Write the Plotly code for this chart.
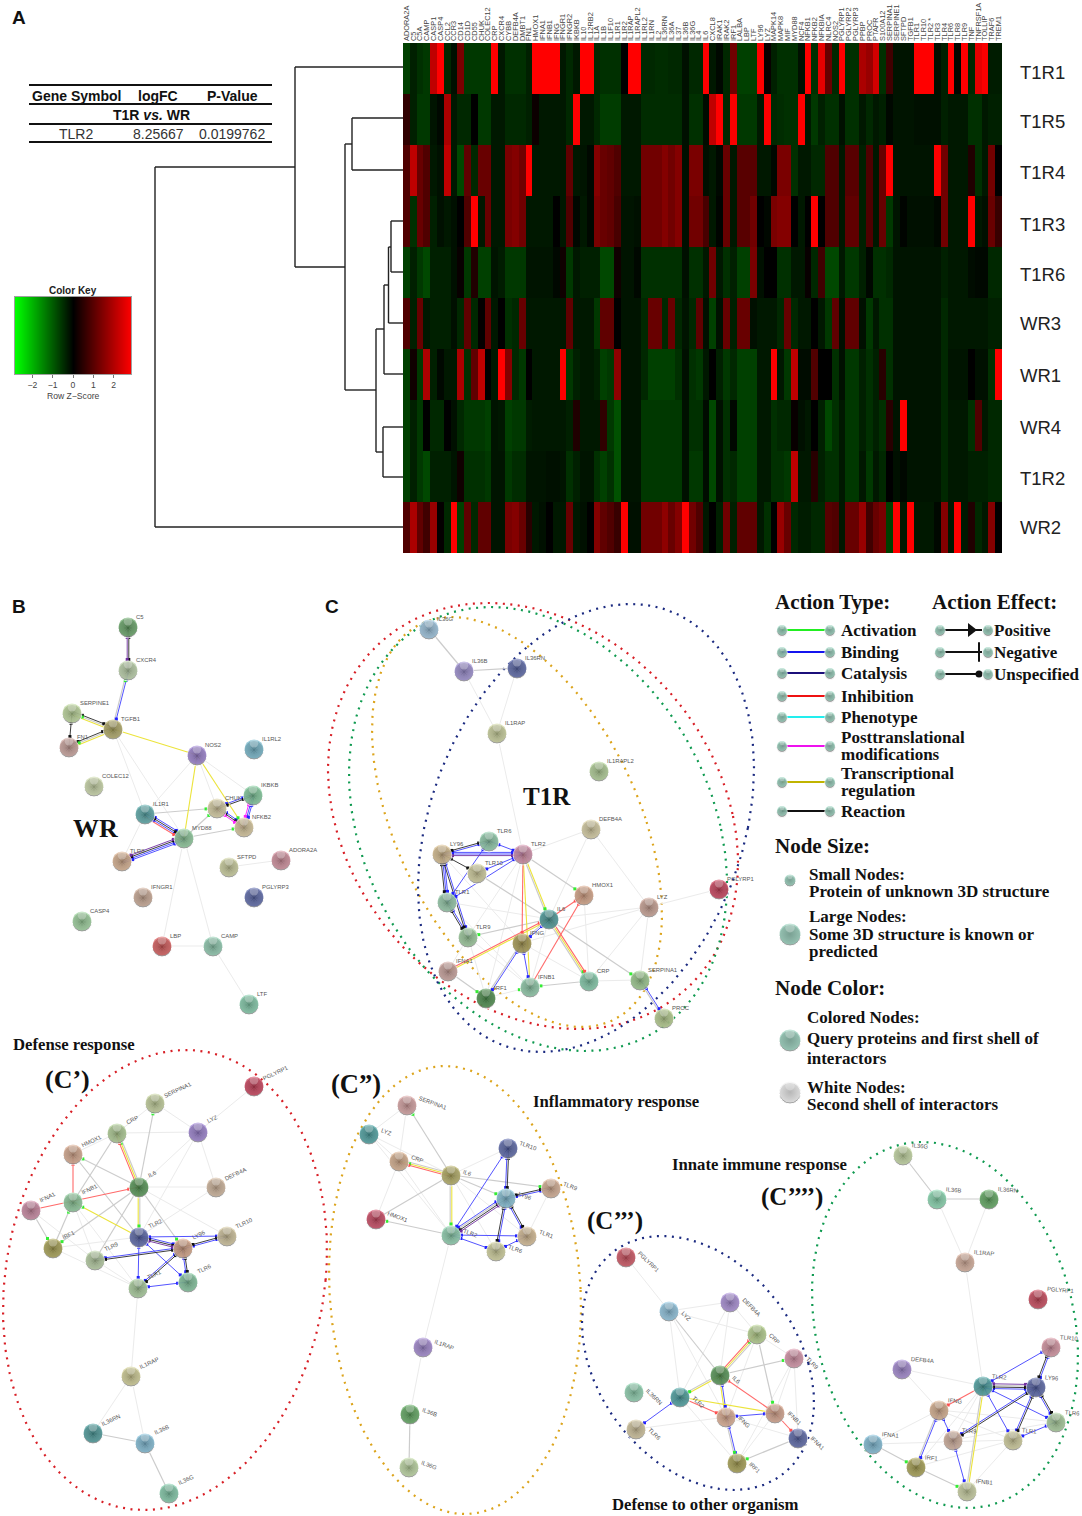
import numpy as np
import plotly.graph_objects as go

W, H = 1082, 1516

# ---------------- heat map data ----------------
GENES = ["ADORA2A","C5","C5A","CAMP","CASP1","CASP4","CCL2","CCR3","CD14","CD1D",
 "CD55","CHUK","COLEC12","CRP","CXCR4","CYBB","DEFB4A","DMBT1","FN1","HMOX1",
 "IFNA1","IFNB1","IFNG","IFNGR1","IFNGR2","IKBKB","IL10","IL12RB2","IL1A","IL1B",
 "IL1F10","IL1R1","IL1R2","IL1RAP","IL1RAPL2","IL1RL2","IL1RN","IL2","IL36RN","IL36A",
 "IL37","IL36B","IL36G","IL4","IL6","CXCL8","IRAK1","IRAK2","IRF1","LALBA",
 "LBP","LTF","LY96","LYZ","MAPK14","MAPK8","MIF","MYD88","NCF4","NFKB1",
 "NFKB2","NFKBIA","NLRC4","NOS2","PGLYRP1","PGLYRP2","PGLYRP3","PPBP","PROC","PTAFR",
 "S100A12","SERPINA1","SERPINE1","SFTPD","TGFB1","TLR1","TLR10","TLR2 *","TLR3","TLR4",
 "TLR6","TLR8","TLR9","TNF","TNFRSF1A","TOLLIP","TRAF6","TREM1"]
ROWS = ["T1R1","T1R5","T1R4","T1R3","T1R6","WR3","WR1","WR4","T1R2","WR2"]
ROW_LABEL_Y = [72,121,172,224,274,323,375,427,478,527]

T1R1 = [-.8,-.4,-.6,-.7,2.2,3,-.5,-.2,1.5,-.7,
 -.7,-.7,-.7,3,-.3,-.6,-.6,-.6,-.4,3,
 3,3,3,-.3,-.5,-.3,3,3,-.5,-.6,
 -.6,-.6,0,3,3,-.5,-.5,-.55,-.55,-.5,
 -.5,-.2,-.5,-.5,3,-.3,-.1,-.5,1.4,-.8,
 -.8,-.8,3,.1,-.4,-.6,-.6,-.6,-.2,3,
 -.6,2.6,1.3,-.5,3,-.6,-.6,2,1.8,2.4,
 -.6,.8,-.25,-.25,-.25,3,3,3,-.2,-.4,
 3,-.1,3,-.5,2.6,2.8,-.35,-.35]
T1R5 = [.6,-.4,-.7,-.7,-.25,-.1,2,-.3,-.5,-.5,
 0,-.7,-.7,-.3,-.3,-.5,-.5,-.5,-.4,.15,
 -.3,-.3,-.3,-.3,-.5,3,-.3,-.3,-.5,-.75,
 -.75,-.75,-.3,-.3,-.3,-.55,-.55,-.55,-.55,-.55,
 -.55,-.2,-.6,-.6,-.15,2.2,3,-.5,2.8,-.7,
 -.7,-.7,-.3,3,-.5,-.55,-.6,-.6,3,-.3,
 -.7,-.4,-.6,-.6,-.2,-.6,-.6,-.3,-.5,-.3,
 -.4,-.1,-.25,-.25,-.25,-.2,-.2,-.2,-.2,-.4,
 -.3,-.3,-.3,-.6,-.6,-.3,-.4,-.4]
T1R4 = [1,2.2,1.3,1,-.3,-.2,2.2,-.3,-.9,1.2,
 -.5,1.3,1.3,-.3,-.3,1.5,1.6,1.4,3,-.3,
 -.3,-.3,-.3,-.3,1.2,-.3,-.25,-.1,1.6,1.3,
 1.2,1,-.3,-.3,-.3,1.4,1.4,1.4,1.6,1.4,
 1.6,-.2,1.5,1.5,-.2,-.3,-.1,1.3,-.3,1.1,
 1.1,1.1,-.3,-.3,-.1,1.5,1.5,-.6,-.3,-.3,
 -.5,-.5,1,1,-.3,1.1,1.1,-.4,1,-.3,
 1.3,3,-.25,-.25,-.25,-.25,-.25,-.25,3,1.4,
 -.3,-.3,-.3,.4,-.6,-.3,1.4,0]
T1R3 = [1,-.6,1.3,1,-.4,-.2,-.3,-.2,0,1,
 3,-.3,1.3,-.3,-.3,1.5,1.6,1.4,-.3,-.3,
 -.3,-.3,0,-.3,1,-.1,-.3,-.1,1.5,1.3,
 1.2,.9,-.25,-.25,-.2,1.4,1.4,1.4,1.6,1.4,
 1.6,-.2,1.4,1.4,.9,-.3,-.05,1.3,-.3,1.1,
 1.1,1.4,0,-.1,1.5,1.6,1.6,0,-.3,0,
 3,0,1,1,-.3,1.2,1.2,-.4,1,-.3,
 1.3,-.7,-.25,-.05,-.2,-.2,-.2,-.2,-.1,1.4,
 -.3,-.3,-.3,3,-.3,-.2,1.3,.7]
T1R6 = [-.8,-.4,-.7,-.9,-.4,-.4,-.4,-.2,.1,-.7,
 .4,-.8,-.8,-.25,-.35,-.7,-.7,-.7,-.25,-.25,
 -.25,-.25,-.1,.2,-.7,-.3,-.4,-.4,-.4,-.9,
 -.9,.2,-.25,-.25,-.1,-.6,-.6,-.6,-.6,-.6,
 -.6,-.2,-.6,-.6,-.3,1.4,-.3,-.6,-.4,-.8,
 -.8,1.5,-.2,0,0,-.6,-.6,-.3,-.3,.1,
 -.5,.8,-.9,-.9,-.3,-.7,-.7,-.4,-.1,-.6,
 -.6,-.5,-.25,-.25,-.25,-.25,-.25,-.25,-.25,-.4,
 -.3,-.3,-.3,-.15,-.1,-.1,-.5,-.5]
WR3 = [1,-.4,1.3,-.3,-.4,-.4,-.4,-.2,-.5,1.2,
 -.5,.05,1.2,-.3,0,-.6,-.5,1.3,-.3,-.3,
 -.3,-.3,-.3,-.3,1.2,-.3,-.3,-.3,-.7,1.2,
 1.2,0,-.25,-.25,-.25,-.5,1.3,1.3,-.5,1.3,
 -.5,-.25,-.5,1.2,-.2,-.8,-.2,1.3,-.4,1.3,
 1.3,-.2,-.3,-.3,-.3,-.5,1.3,-.5,-.3,-.3,
 0,-.3,-.7,1.2,-.2,1.2,1.2,-.2,-.7,-.3,
 -.6,-.6,-.25,-.25,-.25,-.25,-.25,-.25,-.25,-.5,
 -.3,-.3,-.3,-.3,-.3,-.3,-.4,-.4]
WR1 = [-.8,.2,-.7,2,-.4,-.1,-.3,-.3,2,-.6,
 1.2,2.2,0,-.3,3,1.6,-.5,-.7,0,-.3,
 -.3,-.3,-.3,3,-.7,-.4,-.3,-.3,-.4,-.8,
 -.7,1.7,-.25,-.25,-.25,-.5,-.8,-.8,-.8,-.8,
 -.6,-.2,-.6,-.7,-.3,0,-.4,-.7,-.5,-.8,
 -.8,-.8,-.3,-.3,3,-.3,-.7,2.2,-.15,-.15,
 1,0,0,-.6,-.2,-.7,-.7,-.4,-.6,-.4,
 .5,-.6,-.25,-.25,-.25,-.25,-.25,-.25,-.25,-.5,
 -.25,-.25,-.25,0,-.2,-.2,-.6,3]
WR4 = [-.8,-.4,-.7,0,-.5,-.5,0,-.2,-.5,-.7,
 -.7,-.7,-.8,-.25,-.3,-.8,-.7,-.7,-.35,-.3,
 -.3,-.3,-.3,-.3,-.4,.4,-.3,-.3,-.3,.6,
 -.7,-1,-.25,-.25,-.25,-.7,-.7,-.7,-.7,-.7,
 -.7,-.2,-.6,-.6,-.15,-.9,-.2,-.6,-.1,-.8,
 -.8,-.8,-.3,-.3,-.6,-.5,-.5,.1,-.2,-.3,
 0,-.4,-.9,-.6,-.3,-.7,-.7,-.4,-.6,-.4,
 -.6,.5,-.25,3,-.25,-.25,-.25,-.25,-.25,-.5,
 -.3,-.3,-.3,-.6,1,-.3,-.5,-.5]
T1R2 = [-.8,-.4,-.7,-.9,-.4,-.4,-.4,-.25,.2,-.6,
 -.6,-.6,-.7,-.25,-.25,-.7,-.55,-.55,-.25,-.25,
 -.25,-.2,-.2,-.25,-.6,-.4,-.25,-.25,-.6,-.8,
 -.6,-1,-.25,-.25,-.25,-.7,-.7,-.7,-.7,-.7,
 -.7,-.2,-.7,-.7,-.15,-.9,-.2,-.6,-.5,-.8,
 -.8,-.8,-.3,-.3,-.6,-.6,-.7,2.2,-.3,-.3,
 .5,-.4,-.6,-.6,-.3,-.7,-.7,-.3,-.7,-.3,
 -.5,0,-.2,-.1,-.25,-.25,-.25,-.25,-.25,-.5,
 -.3,-.3,-.3,-.4,-.4,-.4,-.5,-.5]
WR2 = [1,2,1.2,.8,1.8,.05,-.5,3,-.8,1.2,
 -.5,1.2,1.2,-.25,-.25,1.5,1.6,1.3,.5,-.3,
 -.2,0,-.3,-.3,1.3,-.3,-.2,0,1.6,1.2,
 1,.7,3,-.2,-.2,1.4,1.4,1.4,1.7,1.3,
 1.6,3,1.4,1,-.3,0,-.4,1.4,-.4,1.2,
 1.2,1.2,-.3,-.6,0,1.8,1.3,-.5,-.35,-.35,
 -.5,-.5,1.1,1,-.3,1.3,1.3,1.8,.8,1.3,
 1.5,-.8,3,-.3,3,-.3,-.3,-.3,-.1,1.6,
 -.3,3,-.3,.4,-.5,-.3,1.6,0]
HEAT = [T1R1, T1R5, T1R4, T1R3, T1R6, WR3, WR1, WR4, T1R2, WR2]
ZLIM = 2.86
COLORSCALE = [[0, "#00ff00"], [.5, "#000000"], [1, "#ff0000"]]
HEAT_COLORSCALE = [[0, "#00ff00"], [.33, "#004e00"], [.5, "#000000"], [.74, "#6e0000"], [1, "#ff0000"]]
KEY_VALUES = [-2.86, 0, 2.86]
KEY_TICKS = [-2, -1, 0, 1, 2]
KEY_TEXT = ["\u22122", "\u22121", "0", "1", "2"]

# dendrogram branches: (x0, y0, x1, y1) on the page grid
DENDRO = [(155,167,155,527),(155,527,403,527),(155,167,295,167),(295,67,295,267),(295,67,403,67),
 (295,267,345,267),(345,144,345,390),(345,144,352,144),(352,118,352,170),(352,118,403,118),(352,170,403,170),
 (345,390,376,390),(376,329,376,452),(376,329,384,329),(384,285,384,374),(384,374,403,374),
 (384,285,388.5,285),(388.5,247,388.5,323),(388.5,323,403,323),(388.5,247,391,247),(391,221,391,272),
 (391,221,403,221),(391,272,403,272),(376,452,383,452),(383,427,383,477),(383,427,403,427),(383,477,403,477)]

# ---------------- networks: names, x, y, colours, edges ----------------
WR_N = ["C5","CXCR4","SERPINE1","TGFB1","FN1","NOS2","IL1RL2","COLEC12","IKBKB","CHUK","NFKB2","IL1R1","MYD88","TLR8","SFTPD","ADORA2A","IFNGR1","PGLYRP3","CASP4","LBP","CAMP","LTF"]
WR_X = [128,128,72,113,69,197,254,94,253,217,244,145,184,122,229,281,143,254,82,162,213,249]
WR_Y = [627,670,713,729,747,755,749,786,795,808,827,814,838,861,867,860,897,897,921,946,946,1004]
WR_C = ["#4f9a4f","#b5d0a0","#b8d890","#a9a050","#c89890","#9070d0","#60b0c8","#c8d8a0","#70c890","#d8cc98","#d8c490","#40a0a0","#80c890","#d8a880","#c8cc90","#d08090","#c8a088","#4050a0","#90d090","#d84040","#80c8a8","#70c8a0"]
WR_E = [("C5","CXCR4","kp"),("CXCR4","TGFB1","bgZ"),("SERPINE1","TGFB1","kgyZ"),("SERPINE1","FN1","k"),("FN1","TGFB1","kgyZ"),
 ("TGFB1","NOS2","y"),("TGFB1","IL1R1","l"),("TGFB1","MYD88","l"),("NOS2","IL1R1","l"),("NOS2","MYD88","y"),("NOS2","CHUK","l"),
 ("NOS2","NFKB2","yA"),("NOS2","IKBKB","l"),("IL1R1","CHUK","gA"),("IL1R1","MYD88","bkbr"),("IL1R1","TLR8","l"),("MYD88","TLR8","bbkp"),
 ("MYD88","CHUK","gA"),("MYD88","NFKB2","gA"),("CHUK","IKBKB","bk"),("CHUK","NFKB2","bkm"),("IKBKB","NFKB2","bbm"),("SFTPD","ADORA2A","l"),
 ("MYD88","LBP","l"),("MYD88","CAMP","l"),("LBP","CAMP","l"),("CAMP","LTF","l")]

T1_N = ["IL36G","IL36B","IL36RN","IL1RAP","IL1RAPL2","DEFB4A","TLR6","TLR2","LY96","TLR10","HMOX1","LYZ","PGLYRP1","TLR1","IL6","TLR9","IFNG","IFNA1","IRF1","IFNB1","CRP","SERPINA1","PROC"]
T1_X = [429,464,517,497,599,591,489,523,442,477,584,649,719,447,549,468,522,448,486,530,589,640,664]
T1_Y = [629,671,668,733,771,829,841,854,854,873,895,907,889,902,919,937,943,971,998,987,981,980,1018]
T1_C = ["#90c0e0","#9080d0","#4050a0","#c8d090","#a8cc88","#d8cc98","#80c8a0","#d080a0","#d8b880","#d0cc90","#d89c78","#c89888","#c82040","#88c8a0","#309090","#90c890","#a09038","#c89890","#308030","#80c8a0","#70c8a0","#90c880","#b0cc80"]
T1_E = [("IL36G","IL36B","g"),("IL36B","IL36RN","g"),("IL36B","IL1RAP","l"),("IL36RN","IL1RAP","l"),("IL1RAP","TLR2","l"),("DEFB4A","TLR2","l"),
 ("DEFB4A","IL6","l"),("DEFB4A","LYZ","l"),("TLR2","HMOX1","gA"),("TLR10","IL6","g"),("TLR1","IL6","l"),("LY96","IFNG","l"),("HMOX1","CRP","l"),
 ("LYZ","IL6","l"),("LYZ","PGLYRP1","l"),("LYZ","IFNG","l"),("LYZ","CRP","l"),("LYZ","SERPINA1","l"),("IL6","TLR9","gA"),("IL6","SERPINA1","gA"),
 ("TLR1","TLR9","bk"),("LY96","TLR1","bbk"),("LY96","TLR9","bk"),("TLR6","TLR2","b"),("LY96","TLR6","kb"),("LY96","TLR2","bbp"),("LY96","TLR10","k"),
 ("TLR10","TLR2","b"),("TLR1","TLR2","b"),("TLR1","TLR6","b"),("TLR2","IL6","ygA"),("TLR2","IFNG","r"),("TLR2","IFNB1","y"),("IL6","CRP","rygA"),
 ("IL6","HMOX1","r"),("IFNB1","HMOX1","r"),("IFNA1","IL6","ry"),("IFNG","IFNB1","b"),("IFNG","IRF1","bg"),("IL6","IFNG","bg"),("IFNA1","IRF1","gA"),
 ("IRF1","IFNB1","lA"),("CRP","IFNB1","gA"),("CRP","SERPINA1","l"),("SERPINA1","PROC","bg"),("TLR9","IFNA1","l"),("TLR9","IFNB1","l"),("TLR9","IRF1","l"),
 ("TLR1","IFNB1","l"),("TLR2","TLR9","l"),("TLR2","IRF1","l"),("IFNG","CRP","l"),("IL6","IFNB1","l")]

C1_N = ["PGLYRP1","SERPINA1","LYZ","CRP","HMOX1","DEFB4A","IL6","IFNB1","IFNA1","TLR2","TLR10","LY96","IRF1","TLR9","TLR6","TLR1","IL1RAP","IL36RN","IL36B","IL36G"]
C1_X = [254,155,198,117,73,216,139,73,31,139,227,183,53,95,188,138,131,93,145,169]
C1_Y = [1086,1103,1132,1133,1154,1187,1187,1202,1210,1237,1236,1248,1248,1260,1282,1288,1376,1433,1443,1493]
C1_C = ["#c82040","#c0d090","#9070d0","#a8cc88","#d8a080","#d0b090","#3c8c3c","#80c890","#c87898","#4050a0","#d0c090","#d89c78","#a09838","#b0cc98","#70c090","#a0cc90","#d0cc88","#309090","#70b8d8","#70c8a0"]
C1_E = [("PGLYRP1","LYZ","l"),("SERPINA1","LYZ","l"),("SERPINA1","CRP","l"),("IL6","SERPINA1","gA"),("CRP","LYZ","l"),("CRP","HMOX1","l"),("IL6","CRP","rygA"),
 ("CRP","IFNB1","g"),("IL6","HMOX1","gA"),("IFNB1","HMOX1","r"),("HMOX1","TLR2","g"),("IFNA1","IL6","r"),("IFNA1","IRF1","gA"),("IFNA1","TLR9","l"),
 ("IRF1","IFNB1","gA"),("TLR2","IFNB1","yA"),("IFNB1","TLR9","l"),("IFNB1","TLR1","l"),("IL6","LYZ","l"),("IL6","DEFB4A","l"),("IL6","TLR2","gyA"),
 ("IL6","IRF1","gA"),("IL6","TLR9","g"),("IL6","LY96","gA"),("IL6","TLR10","l"),("LYZ","DEFB4A","l"),("LYZ","TLR2","l"),("DEFB4A","TLR2","l"),
 ("TLR2","LY96","bkp"),("TLR2","TLR10","b"),("LY96","TLR10","kb"),("TLR2","TLR6","b"),("TLR2","TLR1","b"),("LY96","TLR9","kb"),("LY96","TLR6","kb"),
 ("LY96","TLR1","kb"),("TLR6","TLR1","b"),("TLR9","TLR1","l"),("IRF1","TLR1","l"),("IRF1","TLR2","l"),("TLR1","IL1RAP","l"),("IL1RAP","IL36RN","l"),
 ("IL1RAP","IL36B","l"),("IL36RN","IL36B","g"),("IL36B","IL36G","g")]

C2_N = ["SERPINA1","LYZ","CRP","IL6","TLR10","TLR9","LY96","HMOX1","TLR2","TLR1","TLR6","IL1RAP","IL36B","IL36G"]
C2_X = [407,369,399,451,508,551,506,376,451,527,496,423,410,409]
C2_Y = [1105,1134,1161,1175,1148,1188,1198,1219,1235,1236,1251,1347,1414,1467]
C2_C = ["#d89898","#309898","#d8a880","#b0a850","#4050a0","#d8a888","#78c0d8","#c82848","#80d0a8","#d8b888","#d0d090","#9878d0","#48a048","#b8d898"]
C2_E = [("SERPINA1","LYZ","l"),("SERPINA1","CRP","l"),("IL6","SERPINA1","gA"),("LYZ","CRP","l"),("LYZ","TLR2","l"),("LYZ","IL6","l"),("IL6","CRP","rygA"),
 ("CRP","HMOX1","l"),("CRP","TLR2","l"),("IL6","HMOX1","g"),("TLR2","HMOX1","gA"),("IL6","TLR2","ygA"),("IL6","TLR10","l"),("IL6","TLR9","gA"),("IL6","LY96","gA"),
 ("IL6","TLR6","l"),("IL6","TLR1","l"),("TLR10","TLR2","b"),("TLR10","LY96","kb"),("TLR9","LY96","bk"),("TLR9","TLR1","l"),("LY96","TLR2","pkgb"),
 ("LY96","TLR1","kb"),("LY96","TLR6","bk"),("TLR2","TLR1","b"),("TLR2","TLR6","b"),("TLR1","TLR6","b"),("TLR2","IL1RAP","l"),("IL1RAP","IL36B","l"),("IL36B","IL36G","g")]

C3_N = ["PGLYRP1","LYZ","DEFB4A","CRP","TLR9","IL6","IL36RN","TLR2","IFNB1","IFNG","TLR6","IFNA1","IRF1"]
C3_X = [626,669,730,757,794,720,634,680,775,726,636,798,737]
C3_Y = [1257,1311,1302,1334,1358,1375,1392,1397,1413,1417,1429,1438,1463]
C3_C = ["#d03848","#80c0e0","#a080d8","#b0d080","#d888a0","#3c8c3c","#80d0a8","#309898","#d89c80","#e0a888","#d0c090","#4050a0","#a09838"]
C3_E = [("PGLYRP1","LYZ","l"),("LYZ","DEFB4A","l"),("LYZ","CRP","l"),("LYZ","TLR2","l"),("LYZ","IL6","g"),("LYZ","IFNG","l"),("DEFB4A","CRP","l"),("DEFB4A","TLR2","l"),
 ("DEFB4A","IL6","l"),("CRP","TLR9","l"),("CRP","IFNB1","gA"),("IL6","CRP","rygA"),("CRP","IFNG","l"),("IL6","TLR9","gA"),("TLR9","IFNB1","l"),("TLR9","IFNA1","l"),
 ("TLR9","IRF1","l"),("IL6","TLR2","ygA"),("IL6","IFNG","by"),("IFNB1","IL6","r"),("TLR2","IFNG","r"),("TLR2","IFNB1","y"),("TLR2","TLR6","b"),("TLR2","IRF1","l"),
 ("IFNG","IFNB1","b"),("IFNG","IRF1","bgA"),("IFNG","IFNA1","l"),("IFNG","TLR6","l"),("IFNB1","IFNA1","r"),("IFNB1","IRF1","l"),("IFNA1","IRF1","gA")]

C4_N = ["IL36G","IL36B","IL36RN","IL1RAP","PGLYRP1","TLR10","DEFB4A","TLR2","LY96","IFNG","TLR6","TLR9","TLR1","IFNA1","IRF1","IFNB1"]
C4_X = [903,937,989,965,1038,1051,902,983,1036,939,1056,953,1013,873,916,967]
C4_Y = [1155,1199,1199,1262,1299,1347,1369,1386,1387,1410,1422,1440,1440,1444,1467,1491]
C4_C = ["#c0d898","#78d8a8","#48a048","#d8a890","#c82840","#d88898","#9878d0","#309898","#4050a0","#d8a880","#a0cc90","#d0a890","#d0cc90","#70b8d8","#a09838","#c8d098"]
C4_E = [("IL36G","IL36B","g"),("IL36B","IL36RN","g"),("IL36B","IL1RAP","l"),("IL36RN","IL1RAP","l"),("IL1RAP","TLR2","l"),("DEFB4A","TLR2","l"),("DEFB4A","IFNG","l"),
 ("TLR2","TLR10","b"),("TLR2","LY96","pgkb"),("LY96","TLR10","kb"),("LY96","TLR6","kb"),("LY96","TLR1","kb"),("LY96","TLR9","kb"),("TLR2","TLR6","b"),("TLR2","TLR1","b"),
 ("TLR6","TLR1","b"),("TLR2","IFNG","r"),("TLR2","IFNB1","yg"),("TLR2","TLR9","l"),("TLR2","IRF1","l"),("IFNG","IRF1","bg"),("IFNG","TLR9","b"),("TLR9","IFNB1","b"),
 ("IFNG","IFNA1","l"),("IFNG","TLR6","l"),("IFNG","TLR1","l"),("IFNA1","TLR1","l"),("IFNA1","IRF1","gA"),("IRF1","IFNB1","gA"),("IRF1","TLR1","l"),("TLR1","IFNB1","l"),("TLR9","TLR6","l")]

# name, x, y, colours, edges, label dx, label dy, label angle
PANELS = [(WR_N,WR_X,WR_Y,WR_C,WR_E,8,-10,0),(T1_N,T1_X,T1_Y,T1_C,T1_E,8,-10,0),
          (C1_N,C1_X,C1_Y,C1_C,C1_E,8,-13,-25),(C2_N,C2_X,C2_Y,C2_C,C2_E,11,-2,20),
          (C3_N,C3_X,C3_Y,C3_C,C3_E,11,5,45),(C4_N,C4_X,C4_Y,C4_C,C4_E,9,-9,5)]

# dotted outlines: centre x, centre y, half width, half height, lean, colour
OUTLINES = [(533,816,205,213,45,"#d81f26"),(538,829,189,222,47,"#0f9a50"),(517,822,145,205,65,"#dca41c"),(586,828,168,224,-45,"#1b2a80"),
            (165,1280,162,230,-21,"#d81f26"),(455,1290,126,224,10,"#dca41c"),(698,1363,116,127,36,"#1b2a80"),(945,1325,133,183,23,"#0f9a50")]

EDGE_STYLE = {"l":("#ebebeb",1.0),"g":("#cccccc",1.2),"b":("#4a4aff",.95),"k":("#333333",.95),
              "y":("#ece43c",1.1),"r":("#ff6a6a",1.1),"p":("#7030a0",.9),"m":("#ff30ff",1.0)}

# ---------------- legend text ----------------
ACTION_TYPES = [("Activation",630,"#22ee22"),("Binding",652,"#1414ee"),("Catalysis",673,"#1b0f7a"),("Inhibition",696,"#ee1111"),("Phenotype",717,"#22eeee"),
                ("Posttranslational<br>modifications",746,"#ee11ee"),("Transcriptional<br>regulation",782,"#c0b400"),("Reaction",811,"#111111")]
ACTION_EFFECTS = [("Positive",630,"triangle-right"),("Negative",652,"line-ns"),("Unspecified",674,"circle")]
LEGEND_TEXT = [("Small Nodes:",809,874),("Protein of unknown 3D structure",809,891),("Large Nodes:",809,916),("Some 3D structure is known or",809,934),("predicted",809,951),
               ("Colored Nodes:",807,1017),("Query proteins and first shell of",807,1038),("interactors",807,1058),("White Nodes:",807,1087),("Second shell of interactors",807,1104)]
HEADINGS = [("Action Type:",775,602),("Action Effect:",932,602),("Node Size:",775,846),("Node Color:",775,988)]
PAPER_TEXT = [("Defense response",13,1044,16.7),("Inflammatory response",533,1101,16.7),("Innate immune response",672,1164,16.7),("Defense to other organism",612,1504,16.7),
              ("WR",73,828,26),("T1R",523,796,25),("(C\u2019)",45,1079,26),("(C\u201d)",331,1084,26.5),("(C\u2019\u2019\u2019)",587,1221,25),("(C\u2019\u2019\u2019\u2019)",761,1197,25)]
LETTERS = [("A",12,17),("B",12,606),("C",325,606)]

# table
TABLE_HEAD = [("Gene Symbol",76),("logFC",158),("P-Value",232)]
TABLE_ROW = [("TLR2",76),("8.25667",158),("0.0199762",232)]
TABLE_RULES = [85,104,124,142]

SERIF = "Liberation Serif"
SANS = "Liberation Sans"

fig = go.Figure()
annots = []
def text(x, y, s, size, family=SERIF, anchor="left", color="#111", angle=0):
    annots.append(dict(x=x, y=y, xref="x", yref="y", text=s, showarrow=False, xanchor=anchor, yanchor="middle",
                       font=dict(family=family, size=size, color=color), textangle=angle, borderpad=0, borderwidth=0))

def darker(c, f=.8):
    r, g, b = int(c[1:3],16), int(c[3:5],16), int(c[5:7],16)
    return "#%02x%02x%02x" % (int(r*f), int(g*f), int(b*f))
def lighter(c, f=.1):
    r, g, b = int(c[1:3],16), int(c[3:5],16), int(c[5:7],16)
    return "#%02x%02x%02x" % (int(r+(255-r)*f), int(g+(255-g)*f), int(b+(255-b)*f))

# outlines
for cx, cy, rx, ry, s, col in OUTLINES:
    t = np.linspace(0, 2*np.pi, 241)
    xs = cx + s*np.sin(t) + np.sqrt(rx*rx-s*s)*np.cos(t)
    ys = cy + ry*np.sin(t)
    fig.add_trace(go.Scatter(x=xs, y=ys, mode="lines", line=dict(color=col, width=2.2, dash="2px,5.5px"), hoverinfo="skip"))

# network edges
seg = {k:([],[]) for k in EDGE_STYLE}
ends = {"#2222ff":([],[]), "#111111":([],[]), "#7030a0":([],[]), "#ff20ff":([],[]), "#33ee33":([],[]), "#ff5050":([],[])}
END_OF = {"b":"#2222ff","k":"#111111","p":"#7030a0","m":"#ff20ff"}
for names, X, Y, C, E, dx, dy, ang in PANELS:
    pos = {n:(x,y) for n,x,y in zip(names,X,Y)}
    for a, b, kinds in E:
        p0, p1 = np.array(pos[a],float), np.array(pos[b],float)
        u = (p1-p0)/np.linalg.norm(p1-p0)
        n = np.array([-u[1],u[0]])
        ks = [k for k in kinds if k in EDGE_STYLE]
        for i,k in enumerate(ks):
            off = (i-(len(ks)-1)/2)*1.6
            q0, q1 = p0+n*off, p1+n*off
            seg[k][0].extend([q0[0],q1[0],None]); seg[k][1].extend([q0[1],q1[1],None])
            if k in END_OF:
                for q,v in ((q0,u),(q1,-u)):
                    e = q+v*10.5
                    ends[END_OF[k]][0].append(e[0]); ends[END_OF[k]][1].append(e[1])
            if k == "r":
                e = q1-u*10.5
                ends["#ff5050"][0].append(e[0]); ends["#ff5050"][1].append(e[1])
        if "A" in kinds:
            e = p1-u*11; ends["#33ee33"][0].append(e[0]); ends["#33ee33"][1].append(e[1])
        if "Z" in kinds:
            e = p0+u*11; ends["#33ee33"][0].append(e[0]); ends["#33ee33"][1].append(e[1])
for k,(xs,ys) in seg.items():
    fig.add_trace(go.Scatter(x=xs, y=ys, mode="lines", line=dict(color=EDGE_STYLE[k][0], width=EDGE_STYLE[k][1]), hoverinfo="skip"))
for col,(xs,ys) in ends.items():
    fig.add_trace(go.Scatter(x=xs, y=ys, mode="markers", marker=dict(color=col, size=3, symbol="square"), hoverinfo="skip"))

# legend sample lines
for label, y, col in ACTION_TYPES:
    fig.add_trace(go.Scatter(x=[782,830], y=[y,y], mode="lines", line=dict(color=col, width=2), hoverinfo="skip"))
    lines = label.split("<br>")
    if len(lines) == 1:
        text(841, y, "<b>%s</b>" % label, 17)
    else:
        text(841, y-8.5, "<b>%s</b>" % lines[0], 17)
        text(841, y+8.5, "<b>%s</b>" % lines[1], 17)
for label, y, sym in ACTION_EFFECTS:
    fig.add_trace(go.Scatter(x=[940,982], y=[y,y], mode="lines", line=dict(color="#111", width=2), hoverinfo="skip"))
    fig.add_trace(go.Scatter(x=[971 if sym=="triangle-right" else 979], y=[y], mode="markers", hoverinfo="skip",
        marker=dict(symbol=sym, size={"triangle-right":12,"line-ns":14,"circle":7}[sym], color="#111", line=dict(color="#111", width=2 if sym=="line-ns" else 0))))
    text(994, y, "<b>%s</b>" % label, 17)

# nodes: real names, positions, glossy look
NX, NY, NC, NS = [], [], [], []
for names, X, Y, C, E, dx, dy, ang in PANELS:
    NX += X; NY += Y; NC += C; NS += [19]*len(X)
    for n,x,y in zip(names,X,Y):
        text(x+dx, y+dy, n, 5.9, SANS, "left", "#555555", ang)
for label, y, col in ACTION_TYPES:
    NX += [782,830]; NY += [y,y]; NC += ["#88ccb4"]*2; NS += [10,10]
for label, y, sym in ACTION_EFFECTS:
    NX += [940,988]; NY += [y,y]; NC += ["#88ccb4"]*2; NS += [10,10]
NX += [790,790,790]; NY += [880,934,1040]; NC += ["#88ccb4"]*3; NS += [11,21,21]
NX += [790]; NY += [1092]; NC += ["#f4f4f4"]; NS += [21]

fig.add_trace(go.Scatter(x=NX, y=[y+1.2 for y in NY], mode="markers", hoverinfo="skip",
    marker=dict(size=[s+.5 for s in NS], color="#808080", opacity=.8)))
fig.add_trace(go.Scatter(x=NX, y=NY, mode="markers", hoverinfo="skip",
    marker=dict(size=NS, color=[lighter(c) for c in NC], gradient=dict(type="radial", color=[darker(c) for c in NC]), line=dict(width=0))))
big = [i for i,s in enumerate(NS) if s == 19]
fig.add_trace(go.Scatter(x=[NX[i] for i in big], y=[NY[i]+1 for i in big], mode="markers", hoverinfo="skip",
    marker=dict(size=6, symbol="asterisk-open", color=[darker(NC[i],.55) for i in big], opacity=.3, line=dict(width=.7, color=[darker(NC[i],.55) for i in big]))))
fig.add_trace(go.Scatter(x=NX, y=[y-s*.3 for y,s in zip(NY,NS)], mode="markers", hoverinfo="skip",
    marker=dict(size=[s*.45 for s in NS], color="rgba(255,255,255,.4)", line=dict(width=0))))

# dendrogram
dx_, dy_ = [], []
for x0,y0,x1,y1 in DENDRO:
    dx_ += [x0,x1,None]; dy_ += [y0,y1,None]
fig.add_trace(go.Scatter(x=dx_, y=dy_, mode="lines", line=dict(color="#222", width=1.4), hoverinfo="skip"))

# table rules
for y in TABLE_RULES:
    fig.add_trace(go.Scatter(x=[29,272], y=[y,y], mode="lines", line=dict(color="#111", width=1.8), hoverinfo="skip"))
for s,x in TABLE_HEAD:
    text(x, 95.5, "<b>%s</b>" % s, 14, SANS, "center", "#111")
text(151, 114.5, "<b>T1R <i>vs.</i> WR</b>", 14, SANS, "center", "#111")
for s,x in TABLE_ROW:
    text(x, 133.5, s, 14, SANS, "center", "#333")

# heat map
fig.add_trace(go.Heatmap(z=HEAT, x=GENES, y=ROWS, xaxis="x2", yaxis="y2", zmin=-ZLIM, zmax=ZLIM, colorscale=HEAT_COLORSCALE, showscale=False, hoverinfo="skip", xgap=0, ygap=0))
for r,y in zip(ROWS, ROW_LABEL_Y):
    text(1020, y, r, 18.5, SANS, "left", "#222")
# colour key
fig.add_trace(go.Heatmap(z=[KEY_VALUES, KEY_VALUES], x=KEY_VALUES, y=[0,1], xaxis="x3", yaxis="y3", zmin=-ZLIM, zmax=ZLIM, colorscale=COLORSCALE, showscale=False, zsmooth="best", hoverinfo="skip"))
text(73, 290, "<b>Color Key</b>", 10, SANS, "center", "#222")
text(73, 396, "Row Z\u2212Score", 8.6, SANS, "center", "#444")

for s,x,y in HEADINGS:
    text(x, y, "<b>%s</b>" % s, 21)
for s,x,y in LEGEND_TEXT:
    text(x, y, "<b>%s</b>" % s, 17)
for s,x,y,sz in PAPER_TEXT:
    text(x, y, "<b>%s</b>" % s, sz)
for s,x,y in LETTERS:
    text(x, y, "<b>%s</b>" % s, 19, SANS)

def dom_x(a,b): return [a/W, b/W]
def dom_y(a,b): return [1-b/H, 1-a/H]

fig.update_layout(width=W, height=H, margin=dict(l=0,r=0,t=0,b=0), autosize=False, showlegend=False,
    paper_bgcolor="white", plot_bgcolor="rgba(0,0,0,0)", hovermode=False, annotations=annots,
    xaxis=dict(range=[0,W], domain=[0,1], visible=False, fixedrange=True),
    yaxis=dict(range=[H,0], domain=[0,1], visible=False, fixedrange=True),
    xaxis2=dict(domain=dom_x(403,1002), anchor="y2", side="top", type="category", tickmode="array", tickvals=GENES, ticktext=GENES,
                tickangle=-90, tickfont=dict(family=SANS, size=7.4, color="#444"), ticks="", showgrid=False, zeroline=False, ticklabelstandoff=1, automargin=False),
    yaxis2=dict(domain=dom_y(43,553), anchor="x2", side="right", type="category", autorange="reversed", showticklabels=False, ticks="", showgrid=False, zeroline=False),
    xaxis3=dict(domain=dom_x(15,131), anchor="y3", range=[-ZLIM,ZLIM], tickmode="array", tickvals=KEY_TICKS, ticktext=KEY_TEXT, ticks="outside", ticklen=3,
                tickcolor="#555", tickwidth=.8, tickfont=dict(family=SANS, size=8.6, color="#444"), showgrid=False, zeroline=False, showline=True, linecolor="#888", linewidth=.8, mirror=True),
    yaxis3=dict(domain=dom_y(297,374), anchor="x3", range=[0,1], showticklabels=False, ticks="", showgrid=False, zeroline=False, showline=True, linecolor="#888", linewidth=.8, mirror=True),
)
for r in HEAT:
    assert len(r) == len(GENES), len(r)
fig.write_html("out.html", config={"displayModeBar": False, "staticPlot": True},
               post_script="document.body.style.margin='0';document.documentElement.style.overflow='hidden';")
